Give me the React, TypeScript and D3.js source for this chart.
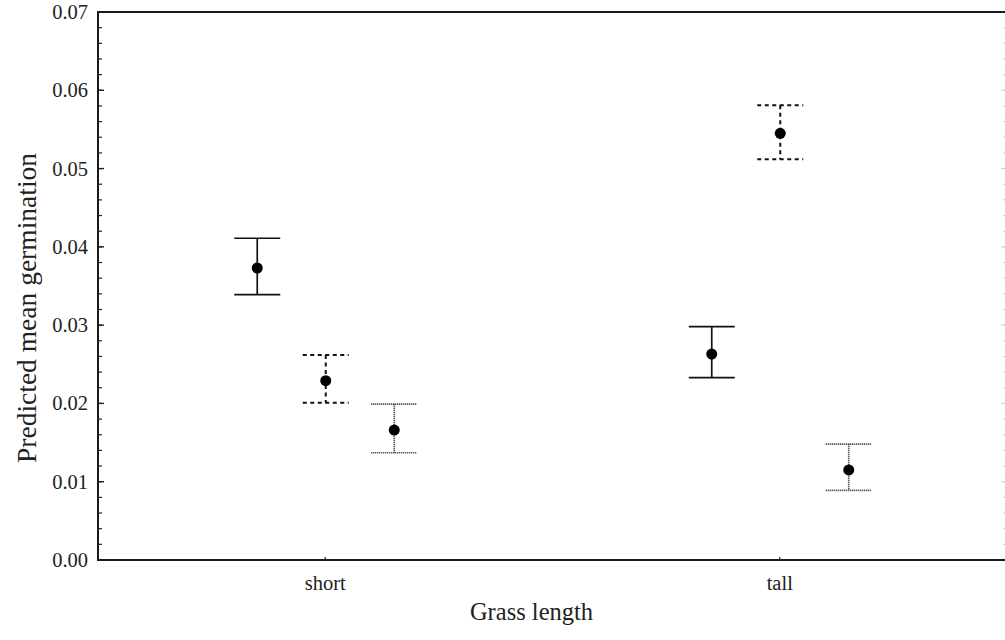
import React from "react";
import * as d3 from "d3";

// Grass length categories and the three treatment series (mean with upper/lower limits)
const categories = ["short", "tall"];
const seriesNames = ["solid", "dashed", "dotted"];
const meanValues = [
  [0.0373, 0.0263],
  [0.0229, 0.0545],
  [0.0166, 0.0115],
];
const upperValues = [
  [0.0411, 0.0298],
  [0.0262, 0.0581],
  [0.0199, 0.0148],
];
const lowerValues = [
  [0.0339, 0.0233],
  [0.0201, 0.0512],
  [0.0137, 0.0089],
];
const yTicks = [0, 0.01, 0.02, 0.03, 0.04, 0.05, 0.06, 0.07];
const yMinorTicks = d3.range(0, 0.0701, 0.002);

const W = 1005;
const H = 640;
const left = 98;
const right = 1007;
const top = 12;
const bottom = 560;

const FONT = "'Liberation Serif', 'Times New Roman', serif";

const lineStyles: Record<string, { dash?: string; width: number; color: string }> = {
  solid: { width: 1.7, color: "#111" },
  dashed: { dash: "4,3.5", width: 2, color: "#111" },
  dotted: { dash: "1,1", width: 1.7, color: "#222" },
};

export default function App() {
  const x = d3.scalePoint<string>().domain(categories).range([left, right]).padding(0.5);
  const offset = d3.scalePoint<string>().domain(seriesNames).range([-68, 69]);
  const y = d3.scaleLinear().domain([0, 0.07]).range([bottom, top]);
  const capHalf = 23;

  return (
    <svg
      width={W}
      height={H}
      style={{ position: "absolute", left: 0, top: 0, background: "#fff" }}
      fontFamily={FONT}
    >
      {/* minor ticks on left and right axes */}
      {yMinorTicks.map((t, i) => (
        <g key={"m" + i}>
          <line x1={left} x2={left + 4} y1={y(t)} y2={y(t)} stroke="#222" strokeWidth={1.2} />
          <line x1={right} x2={right - 4} y1={y(t)} y2={y(t)} stroke="#ccc" strokeWidth={1} />
        </g>
      ))}
      {yTicks.map((t) => (
        <g key={"t" + t}>
          <line x1={left} x2={left + 6} y1={y(t)} y2={y(t)} stroke="#222" strokeWidth={1.4} />
          <line x1={right} x2={right - 6} y1={y(t)} y2={y(t)} stroke="#ccc" strokeWidth={1} />
          <text
            x={left - 10}
            y={y(t)}
            textAnchor="end"
            dominantBaseline="central"
            fontSize={20.5}
            fill="#222"
          >
            {d3.format(".2f")(t)}
          </text>
        </g>
      ))}
      {categories.map((c) => (
        <g key={c}>
          <line x1={x(c)} x2={x(c)} y1={bottom} y2={bottom - 3} stroke="#222" strokeWidth={1.2} />
          <text x={x(c)} y={bottom + 30} textAnchor="middle" fontSize={20.5} fill="#222">
            {c}
          </text>
        </g>
      ))}
      {/* frame */}
      <rect x={left} y={top} width={right - left} height={bottom - top} fill="none" stroke="#1a1a1a" strokeWidth={2} />

      {/* error bars and means */}
      {seriesNames.map((s, si) => {
        const st = lineStyles[s];
        return categories.map((c, ci) => {
          const cx = (x(c) as number) + (offset(s) as number);
          const yu = y(upperValues[si][ci]);
          const yl = y(lowerValues[si][ci]);
          const ym = y(meanValues[si][ci]);
          return (
            <g key={s + c} stroke={st.color} strokeWidth={st.width} strokeDasharray={st.dash}>
              <line x1={cx} x2={cx} y1={yu} y2={yl} />
              <line x1={cx - capHalf} x2={cx + capHalf} y1={yu} y2={yu} />
              <line x1={cx - capHalf} x2={cx + capHalf} y1={yl} y2={yl} />
              <circle cx={cx} cy={ym} r={5.5} fill="#000" stroke="none" />
            </g>
          );
        });
      })}

      <text x={(left + 1005) / 2 - 20} y={620} textAnchor="middle" fontSize={24.5} fill="#222">
        Grass length
      </text>
      <text
        transform={`translate(26, ${(top + bottom) / 2 + 22}) rotate(-90)`}
        textAnchor="middle"
        dominantBaseline="central"
        fontSize={27.5}
        fill="#222"
      >
        Predicted mean germination
      </text>
    </svg>
  );
}
